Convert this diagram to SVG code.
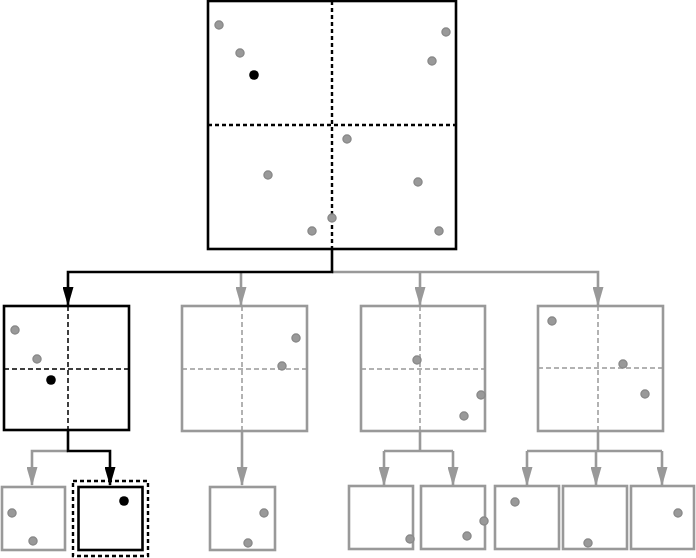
<svg xmlns="http://www.w3.org/2000/svg" width="696" height="558" viewBox="0 0 696 558">
<style>
.bg{fill:#fff}
.bk{fill:#fff;stroke:#000;stroke-width:2.6}
.gy{fill:#fff;stroke:#999;stroke-width:2.6}
.dk{fill:none;stroke:#000;stroke-width:2.4;stroke-dasharray:4,3}
.dk1{fill:none;stroke:#000;stroke-width:1.5;stroke-dasharray:5,3}
.dg1{fill:none;stroke:#999;stroke-width:1.5;stroke-dasharray:5,3}
.pt{fill:#999;stroke:#8a8a8a;stroke-width:1.5}
.pb{fill:#000}
.cb{fill:none;stroke:#000;stroke-width:2.6}
.cg{fill:none;stroke:#999;stroke-width:2.6}
</style>
<defs>
<marker id="ab" markerUnits="userSpaceOnUse" markerWidth="19" markerHeight="11" viewBox="0 0 19 11" refX="18" refY="5.5" orient="auto"><path d="M0,0 L19,5.5 L0,11 z" fill="#000"/></marker>
<marker id="ag" markerUnits="userSpaceOnUse" markerWidth="19" markerHeight="11" viewBox="0 0 19 11" refX="18" refY="5.5" orient="auto"><path d="M0,0 L19,5.5 L0,11 z" fill="#999"/></marker>
</defs>
<rect class="bg" x="0" y="0" width="696" height="558"/>
<g id="connectors">
<path class="cg" d="M332,272 H598 V305" marker-end="url(#ag)"/>
<path class="cg" d="M241,272 V305" marker-end="url(#ag)"/>
<path class="cg" d="M420,272 V305" marker-end="url(#ag)"/>
<path class="cb" d="M332,249 V272 H68 V305" marker-end="url(#ab)"/>
<path class="cg" d="M68,451 H32 V485" marker-end="url(#ag)"/>
<path class="cb" d="M68,431 V451 H110 V485" marker-end="url(#ab)"/>
<path class="cg" d="M242,431 V485" marker-end="url(#ag)"/>
<path class="cg" d="M420,431 V451"/>
<path class="cg" d="M384,451 H453"/>
<path class="cg" d="M384,451 V485" marker-end="url(#ag)"/>
<path class="cg" d="M453,451 V485" marker-end="url(#ag)"/>
<path class="cg" d="M598,431 V451"/>
<path class="cg" d="M527,451 H662"/>
<path class="cg" d="M527,451 V485" marker-end="url(#ag)"/>
<path class="cg" d="M596,451 V485" marker-end="url(#ag)"/>
<path class="cg" d="M662,451 V485" marker-end="url(#ag)"/>
</g>
<g id="root">
<rect class="bk" x="208" y="1" width="248" height="248"/>
<path class="dk" d="M332,1 V249 M208,125 H456"/>
<circle class="pt" cx="219" cy="25" r="4"/>
<circle class="pt" cx="240" cy="53" r="4"/>
<circle class="pb" cx="254" cy="75" r="4.8"/>
<circle class="pt" cx="446" cy="32" r="4"/>
<circle class="pt" cx="432" cy="61" r="4"/>
<circle class="pt" cx="347" cy="139" r="4"/>
<circle class="pt" cx="268" cy="175" r="4"/>
<circle class="pt" cx="418" cy="182" r="4"/>
<circle class="pt" cx="332" cy="218" r="4"/>
<circle class="pt" cx="312" cy="231" r="4"/>
<circle class="pt" cx="439" cy="231" r="4"/>
</g>
<g id="q1">
<rect class="bk" x="4" y="306" width="125" height="124"/>
<path class="dk1" d="M68,306 V430 M4,369 H129"/>
<circle class="pt" cx="15" cy="330" r="4"/>
<circle class="pt" cx="37" cy="359" r="4"/>
<circle class="pb" cx="51" cy="380" r="4.8"/>
</g>
<g id="q2">
<rect class="gy" x="182" y="306" width="125" height="125"/>
<path class="dg1" d="M242,306 V431 M182,369 H307"/>
<circle class="pt" cx="296" cy="338" r="4"/>
<circle class="pt" cx="282" cy="366" r="4"/>
</g>
<g id="q3">
<rect class="gy" x="361" y="306" width="124" height="125"/>
<path class="dg1" d="M420,306 V431 M361,369 H485"/>
<circle class="pt" cx="417" cy="360" r="4"/>
<circle class="pt" cx="481" cy="395" r="4"/>
<circle class="pt" cx="464" cy="416" r="4"/>
</g>
<g id="q4">
<rect class="gy" x="538" y="306" width="125" height="125"/>
<path class="dg1" d="M598,306 V431 M538,368 H663"/>
<circle class="pt" cx="552" cy="321" r="4"/>
<circle class="pt" cx="623" cy="364" r="4"/>
<circle class="pt" cx="645" cy="394" r="4"/>
</g>
<g id="leaf1">
<rect class="gy" x="2" y="487" width="63" height="63"/>
<circle class="pt" cx="12" cy="513" r="4"/>
<circle class="pt" cx="33" cy="541" r="4"/>
</g>
<g id="leaf2">
<rect class="dk" x="73" y="481" width="75" height="75"/>
<rect class="bk" x="78.5" y="487" width="64" height="63"/>
<circle class="pb" cx="124" cy="501" r="4.8"/>
</g>
<g id="leaf3">
<rect class="gy" x="210" y="487" width="65" height="63"/>
<circle class="pt" cx="264" cy="513" r="4"/>
<circle class="pt" cx="248" cy="543" r="4"/>
</g>
<g id="leaf4">
<rect class="gy" x="349" y="486" width="64" height="63"/>
<circle class="pt" cx="410" cy="539" r="4"/>
</g>
<g id="leaf5">
<rect class="gy" x="421" y="486" width="64" height="63"/>
<circle class="pt" cx="484" cy="521" r="4"/>
<circle class="pt" cx="467" cy="536" r="4"/>
</g>
<g id="leaf6">
<rect class="gy" x="495" y="486" width="64" height="63"/>
<circle class="pt" cx="515" cy="502" r="4"/>
</g>
<g id="leaf7">
<rect class="gy" x="563" y="486" width="64" height="63"/>
<circle class="pt" cx="588" cy="543" r="4"/>
</g>
<g id="leaf8">
<rect class="gy" x="631" y="486" width="63" height="63"/>
<circle class="pt" cx="678" cy="513" r="4"/>
</g>
</svg>
